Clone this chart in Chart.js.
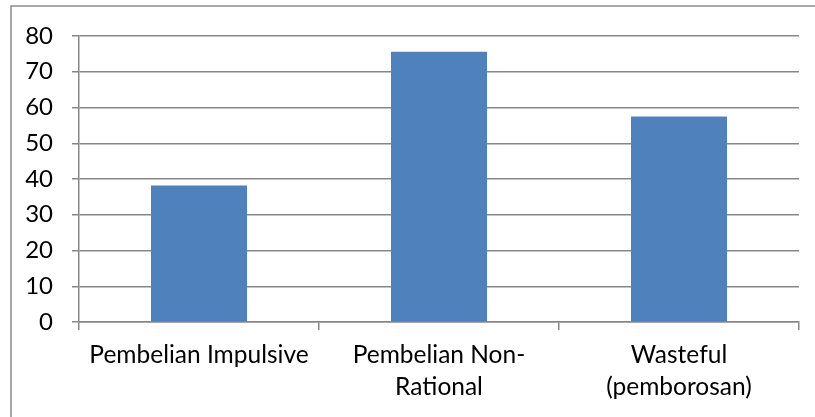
<!DOCTYPE html>
<html>
<head>
<meta charset="utf-8">
<script src="https://cdn.jsdelivr.net/npm/chart.js@4/dist/chart.umd.min.js"></script>
<style>
  html, body { margin: 0; padding: 0; background: #fff; }
  #wrap { position: relative; width: 815px; height: 417px; }
</style>
</head>
<body>
<div id="wrap"><canvas id="c" width="815" height="417"></canvas></div>
<script>
// Categories (multi-line where the label wraps)
const categories = [
  ['Pembelian Impulsive'],
  ['Pembelian Non-', 'Rational'],
  ['Wasteful', '(pemborosan)']
];
// Scores per category
const values = [38.2, 75.6, 57.5];
// Value axis
const yMin = 0, yMax = 80, yStep = 10;

const gridColor = '#878787';
const fontFamily = 'Lato, "Open Sans", sans-serif';

// Outer frame of the chart object (left and top edges)
const framePlugin = {
  id: 'frame',
  beforeDraw(chart) {
    const ctx = chart.ctx;
    ctx.save();
    ctx.strokeStyle = '#8c8c8c';
    ctx.lineWidth = 1.5;
    ctx.beginPath();
    ctx.moveTo(11, chart.height + 2);
    ctx.lineTo(11, 6);
    ctx.lineTo(chart.width + 2, 6);
    ctx.stroke();
    ctx.restore();
  }
};

new Chart(document.getElementById('c'), {
  type: 'bar',
  data: {
    labels: categories,
    datasets: [{
      data: values,
      backgroundColor: '#4F81BD',
      borderWidth: 0,
      categoryPercentage: 1.0,
      barPercentage: 0.4
    }]
  },
  options: {
    responsive: false,
    animation: false,
    events: [],
    layout: { padding: { top: 36, right: 16, left: 0, bottom: 0 } },
    plugins: {
      legend: { display: false },
      tooltip: { enabled: false }
    },
    scales: {
      x: {
        grid: {
          offset: true,
          drawOnChartArea: false,
          drawTicks: true,
          tickLength: 8,
          color: gridColor,
          lineWidth: 1.5
        },
        border: { color: gridColor, width: 1.5 },
        ticks: {
          color: '#000',
          font: { family: fontFamily, size: 24.5, lineHeight: 1.3 },
          padding: 9,
          maxRotation: 0,
          autoSkip: false
        },
        afterFit(scale) { scale.height = 95; }
      },
      y: {
        min: yMin,
        max: yMax,
        grid: {
          color: gridColor,
          lineWidth: 1.5,
          drawTicks: true,
          tickLength: 7
        },
        border: { color: gridColor, width: 1.5 },
        ticks: {
          stepSize: yStep,
          color: '#000',
          font: { family: fontFamily, size: 24 },
          padding: 19
        },
        afterFit(scale) { scale.width = 79; }
      }
    }
  },
  plugins: [framePlugin]
});
</script>
</body>
</html>
